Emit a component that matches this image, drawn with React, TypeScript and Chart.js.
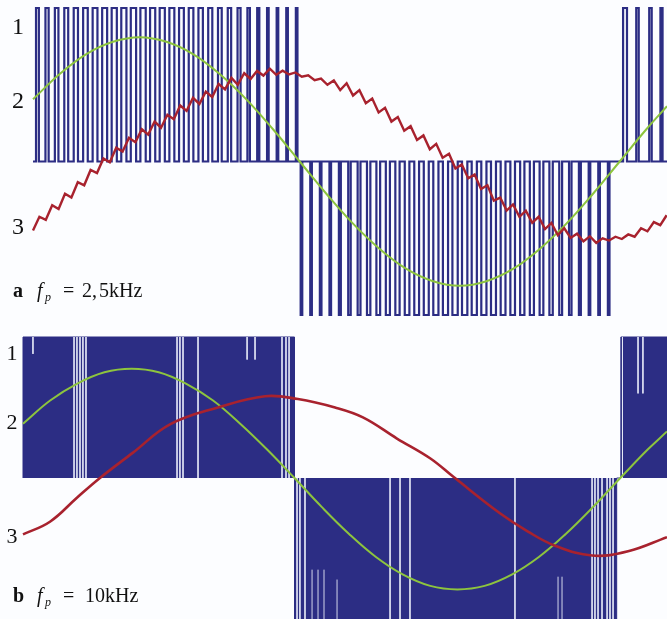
import React, { useEffect, useRef } from "react";
import { Chart, registerables } from "chart.js";

Chart.register(...registerables);

// ================= Panel a : f_p = 2,5kHz (x = fundamental angle, degrees; y = % of DC level) =================
const xRangeA = [30, 386.6];

// PWM voltage pulses (1): centre angle, width (deg), level
const pulseCentersA = [
  32.5, 37.9, 43.3, 48.7, 54.1, 59.5, 64.9, 70.3, 75.7, 81.1, 86.5, 91.9, 97.3, 102.7,
  108.1, 113.5, 118.9, 124.3, 129.7, 135.1, 140.5, 145.9, 151.3, 156.7, 162.1, 167.5, 172.9, 178.3,
  181, 186.4, 191.8, 197.2, 202.6, 208, 213.4, 218.8, 224.2, 229.6, 235, 240.4, 245.8, 251.2, 256.6, 262, 267.4,
  272.8, 278.2, 283.6, 289, 294.4, 299.8, 305.2, 310.6, 316, 321.4, 326.8, 332.2, 337.6, 343, 348.4, 353.8,
  363, 370, 377.3, 383.5,
];
const pulseWidthsA = [
  1.6, 1.8, 2.0, 2.2, 2.4, 2.6, 2.7, 2.8, 2.9, 2.9, 3.0, 3.0, 2.9, 2.9,
  2.8, 2.7, 2.6, 2.5, 2.3, 2.1, 1.9, 1.7, 1.4, 1.2, 0.9, 0.9, 0.9, 0.9,
  0.9, 0.9, 0.9, 0.9, 1.1, 1.4, 1.6, 1.9, 2.1, 2.3, 2.4, 2.6, 2.7, 2.8, 2.9, 2.9, 3.0,
  3.0, 2.9, 2.9, 2.8, 2.7, 2.6, 2.4, 2.3, 2.1, 1.9, 1.6, 1.4, 1.1, 0.9, 0.9, 0.9,
  2.2, 1.4, 1.4, 1.2,
];
const pulseLevelsA = [
  100, 100, 100, 100, 100, 100, 100, 100, 100, 100, 100, 100, 100, 100,
  100, 100, 100, 100, 100, 100, 100, 100, 100, 100, 100, 100, 100, 100,
  -100, -100, -100, -100, -100, -100, -100, -100, -100, -100, -100, -100, -100, -100, -100, -100, -100,
  -100, -100, -100, -100, -100, -100, -100, -100, -100, -100, -100, -100, -100, -100, -100, -100,
  100, 100, 100, 100,
];

// Reference sine (2)
const sineAnglesA = [30, 45, 60, 75, 90, 105, 120, 135, 150, 165, 180, 195, 210, 225, 240, 255, 270, 285, 300, 315, 330, 345, 360, 375, 386.6];
const sineValuesA = [40.5, 57, 70, 78, 81, 78, 70, 57, 40.5, 21, 0, -21, -40.5, -57, -70, -78, -81, -78, -70, -57, -40.5, -21, 0, 21, 36];

// Current with ripple (3)
const currentAnglesA = [
  30, 33.6, 37.2, 40.8, 44.4, 48, 51.6, 55.2, 58.8, 62.4,
  66, 69.6, 73.2, 76.8, 80.4, 84, 87.6, 91.2, 94.8, 98.4,
  102, 105.6, 109.2, 112.8, 116.4, 120, 123.6, 127.2, 130.8, 134.4,
  138, 141.6, 145.2, 148.8, 152.4, 156, 159.6, 163.2, 166.8, 170.4,
  174, 177.6, 181.2, 184.8, 188.4, 192, 195.6, 199.2, 202.8, 206.4,
  210, 213.6, 217.2, 220.8, 224.4, 228, 231.6, 235.2, 238.8, 242.4,
  246, 249.6, 253.2, 256.8, 260.4, 264, 267.6, 271.2, 274.8, 278.4,
  282, 285.6, 289.2, 292.8, 296.4, 300, 303.6, 307.2, 310.8, 314.4,
  318, 321.6, 325.2, 328.8, 332.4, 336, 339.6, 343.2, 346.8, 350.4,
  354, 357.6, 361.2, 364.8, 368.4, 372, 375.6, 379.2, 382.8, 386.4,
];
const currentValuesA = [
  -45, -36, -38, -28.5, -31, -21, -23.5, -13.5, -15.5, -5.5,
  -7.5, 2, -0.5, 9, 6.5, 15.5, 12.5, 21, 17.5, 26,
  22, 30.5, 27.5, 36.5, 33, 41.5, 37.5, 45.5, 42, 50.5,
  47, 54.5, 50, 57.5, 53.8, 59, 56, 60.5, 56.5, 59.2,
  56.7, 58, 55.2, 56.2, 53, 54, 50, 52.8, 46.5, 51,
  43, 46.5, 38, 41, 32, 35, 26, 29, 20, 23,
  14, 17, 8, 11.5, 2.5, 5, -4.5, -2, -11, -8.5,
  -18, -15.5, -25.5, -23.5, -32, -28, -36, -32, -40, -36,
  -44, -40, -48, -43.5, -49.8, -47, -52, -48.7, -53, -50,
  -51.5, -49, -50.5, -47.5, -49, -43.5, -45.5, -39.5, -41.5, -35,
];

// ================= Panel b : f_p = 10kHz =================
const xRangeB = [30, 385.8];

// Dense PWM (1) seen as blocks
const blockAnglesB = [30, 30, 180, 180, 180, 358, 358, 360.3, 360.3, 385.8];
const blockLevelsB = [0, 100, 100, 0, -100, -100, 0, 0, 100, 100];

// Visible gaps between the dense pulses: angle, from level, to level
const gapAnglesB = [
  35.5, 58.2, 59.8, 61.5, 63.1, 64.8, 115.1, 116.7, 118.4, 126.7, 153.8, 158.2, 173.1, 175.3, 177,
  181.4, 183, 185.8, 189.7, 193, 196.3, 203.5, 232.8, 238.3, 243.8, 301.8, 325.6, 327.8,
  344.4, 346, 347.7, 349.9, 352.7, 354.3, 356, 361.2, 369.8, 372.5,
];
const gapFromB = [
  100, 100, 100, 100, 100, 100, 100, 100, 100, 100, 100, 100, 100, 100, 100,
  0, 0, 0, -100, -100, -100, -100, 0, 0, 0, 0, -100, -100,
  0, 0, 0, 0, 0, 0, 0, 100, 100, 100,
];
const gapToB = [
  88, 0, 0, 0, 0, 0, 0, 0, 0, 0, 84, 84, 0, 0, 0,
  -100, -100, -100, -65, -65, -65, -72, -100, -100, -100, -100, -70, -70,
  -100, -100, -100, -100, -100, -100, -100, 0, 60, 60,
];

const sineAnglesB = [30, 45, 60, 75, 90, 105, 120, 135, 150, 165, 180, 195, 210, 225, 240, 255, 270, 285, 300, 315, 330, 345, 360, 375, 385.8];
const sineValuesB = [38.5, 55, 67, 75, 77.5, 75, 67, 55, 38.5, 20, 0, -20.5, -39.5, -56, -68.5, -76.5, -79, -76.5, -68.5, -56, -39.5, -20.5, 0, 20, 33];

const currentAnglesB = [30, 44.9, 59.8, 72.5, 90.8, 111.2, 137.7, 163.7, 181.9, 202.4, 217.8, 236.6, 254.9, 267.6, 293.5, 309, 323.9, 344.4, 364.3, 385.8];
const currentValuesB = [-40, -31, -14, 0, 18, 38, 50, 58, 56, 50, 43, 28, 14, 1, -25, -38, -48, -55, -52, -42];

// ================= styling =================
const BLUE = "#2c2d84";
const GREEN = "#8dc43e";
const RED = "#a8222e";
const BG = "#fcfdff";
const SERIF = '"Liberation Serif", "DejaVu Serif", serif';

const zip = (xs: number[], ys: (number | null)[]) => xs.map((x, i) => ({ x, y: ys[i] }));

function buildPulseTrace() {
  const pts: { x: number; y: number }[] = [{ x: xRangeA[0], y: 0 }];
  pulseCentersA.forEach((c, i) => {
    const h = pulseWidthsA[i] / 2;
    const L = pulseLevelsA[i];
    pts.push({ x: c - h, y: 0 }, { x: c - h, y: L }, { x: c + h, y: L }, { x: c + h, y: 0 });
  });
  pts.push({ x: xRangeA[1], y: 0 });
  return pts;
}

function buildGaps() {
  const pts: { x: number; y: number | null }[] = [];
  gapAnglesB.forEach((a, i) => {
    pts.push({ x: a, y: gapFromB[i] }, { x: a, y: gapToB[i] }, { x: a, y: null });
  });
  return pts;
}

type PanelProps = {
  top: number;
  height: number;
  padding: { left: number; right: number; top: number; bottom: number };
  xRange: number[];
  datasets: any[];
};

function Panel({ top, height, padding, xRange, datasets }: PanelProps) {
  const ref = useRef<HTMLCanvasElement | null>(null);
  useEffect(() => {
    const chart = new Chart(ref.current as HTMLCanvasElement, {
      type: "line",
      data: { datasets },
      options: {
        animation: false,
        responsive: false,
        maintainAspectRatio: false,
        devicePixelRatio: 1,
        events: [],
        layout: { padding },
        scales: {
          x: { type: "linear", min: xRange[0], max: xRange[1], display: false },
          y: { type: "linear", min: -100, max: 100, display: false },
        },
        plugins: { legend: { display: false }, tooltip: { enabled: false } },
        elements: { point: { radius: 0, hoverRadius: 0 } },
      },
    } as any);
    return () => chart.destroy();
  }, []);
  return (
    <canvas
      ref={ref}
      width={667}
      height={height}
      style={{ position: "absolute", left: 0, top, width: 667, height }}
    />
  );
}

function Label({ text, cx, cy, size }: { text: string; cx: number; cy: number; size: number }) {
  return (
    <span
      style={{
        position: "absolute",
        left: cx - 15,
        width: 30,
        textAlign: "center",
        top: cy - size * 0.5,
        fontSize: size,
        lineHeight: `${size}px`,
        fontFamily: SERIF,
        color: "#111",
      }}
    >
      {text}
    </span>
  );
}

function Txt({ children, left, baseline, size, bold, italic }: any) {
  return (
    <span
      style={{
        position: "absolute",
        left,
        top: baseline - size * 0.837,
        fontSize: size,
        lineHeight: `${size}px`,
        fontFamily: SERIF,
        fontWeight: bold ? "bold" : "normal",
        fontStyle: italic ? "italic" : "normal",
        color: "#111",
        whiteSpace: "pre",
      }}
    >
      {children}
    </span>
  );
}

export default function App() {
  const datasetsA = [
    { data: zip(currentAnglesA, currentValuesA), borderColor: RED, borderWidth: 2.4, tension: 0, clip: false, order: 0 },
    { data: zip(sineAnglesA, sineValuesA), borderColor: GREEN, borderWidth: 2, tension: 0.4, clip: false, order: 1 },
    { data: buildPulseTrace(), borderColor: BLUE, borderWidth: 2.2, tension: 0, clip: false, order: 2 },
  ];
  const datasetsB = [
    { data: zip(currentAnglesB, currentValuesB), borderColor: RED, borderWidth: 2.6, tension: 0.4, clip: false, order: 0 },
    { data: zip(sineAnglesB, sineValuesB), borderColor: GREEN, borderWidth: 2, tension: 0.4, clip: false, order: 1 },
    { data: buildGaps(), borderColor: "rgba(228,232,246,0.9)", borderWidth: 1, tension: 0, spanGaps: false, clip: false, order: 2 },
    {
      data: zip(blockAnglesB, blockLevelsB),
      borderColor: BLUE,
      backgroundColor: BLUE,
      borderWidth: 1,
      tension: 0,
      fill: { value: 0 },
      clip: false,
      order: 3,
    },
  ];

  return (
    <div
      style={{
        position: "absolute",
        left: 0,
        top: 0,
        width: 667,
        height: 619,
        background: BG,
        overflow: "hidden",
      }}
    >
      <Panel top={0} height={325} padding={{ left: 33, right: 0, top: 8, bottom: 10 }} xRange={xRangeA} datasets={datasetsA} />
      <Panel top={325} height={294} padding={{ left: 23, right: 0, top: 12, bottom: 0 }} xRange={xRangeB} datasets={datasetsB} />

      <Label text="1" cx={18} cy={26} size={24} />
      <Label text="2" cx={18} cy={100} size={24} />
      <Label text="3" cx={18} cy={226} size={24} />
      <Label text="1" cx={12} cy={353} size={22} />
      <Label text="2" cx={12} cy={422} size={22} />
      <Label text="3" cx={12} cy={536} size={22} />

      <Txt left={13} baseline={297} size={20} bold>a</Txt>
      <Txt left={37} baseline={297} size={20} italic>f</Txt>
      <Txt left={45} baseline={301} size={12} italic>p</Txt>
      <Txt left={63} baseline={297} size={20}>=</Txt>
      <Txt left={82} baseline={297} size={20}>2,</Txt>
      <Txt left={99} baseline={297} size={20}>5kHz</Txt>

      <Txt left={13} baseline={602} size={20} bold>b</Txt>
      <Txt left={37} baseline={602} size={20} italic>f</Txt>
      <Txt left={45} baseline={606} size={12} italic>p</Txt>
      <Txt left={63} baseline={602} size={20}>=</Txt>
      <Txt left={85} baseline={602} size={20}>10kHz</Txt>
    </div>
  );
}
